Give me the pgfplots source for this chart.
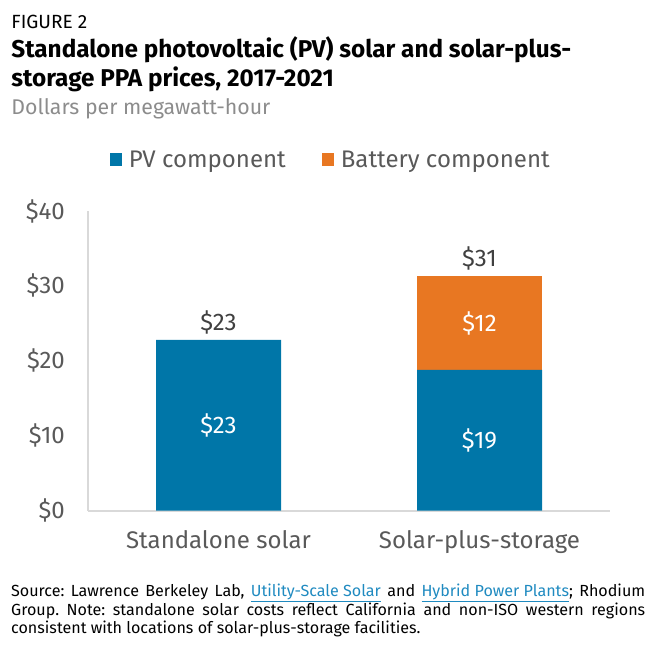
\documentclass[border=0pt]{standalone}
\usepackage{fontspec}
\setmainfont{Fira Sans}
\usepackage{pgfplots}
\pgfplotsset{compat=1.18}
\definecolor{pvblue}{HTML}{0076A8}
\definecolor{batorange}{HTML}{E87722}
\definecolor{txtgray}{HTML}{595959}
\definecolor{darkgray2}{HTML}{404040}
\definecolor{subgray}{HTML}{8C8C8C}
\definecolor{axgray}{HTML}{D9D9D9}
\definecolor{linkblue}{HTML}{1F8AC0}
\newcommand{\lnk}[1]{{\color{linkblue}\underline{#1}}}
\frenchspacing
\begin{document}
\begin{tikzpicture}[x=1pt,y=1pt]
\useasboundingbox (0,0) rectangle (658,653);
\node[anchor=base west,inner sep=0,font=\fontsize{19.1}{22}\selectfont] at (11.2,653-28.3) {FIGURE 2};
\node[anchor=base west,inner sep=0,font=\fontsize{24.3}{28}\selectfont\bfseries] at (11.2,653-57.3) {Standalone photovoltaic (PV) solar and solar-plus-};
\node[anchor=base west,inner sep=0,font=\fontsize{24.3}{28}\selectfont\bfseries] at (11.2,653-86.7) {storage PPA prices, 2017-2021};
\node[anchor=base west,inner sep=0,font=\fontsize{21.3}{24}\selectfont,text=subgray] at (11.2,653-115) {Dollars per megawatt-hour};
\begin{axis}[
  at={(88pt,142.3pt)}, anchor=south west,
  scale only axis, width=522pt, height=299.7pt,
  ymin=0, ymax=40, xmin=-0.5, xmax=1.5,
  ybar stacked, bar width=125pt,
  axis x line=bottom, axis y line=left,
  axis line style={draw=axgray, line width=1.8pt, -},
  major tick length=0pt,
  ytick={0,10,20,30,40},
  yticklabels={\$0,\$10,\$20,\$30,\$40},
  xtick={0,1},
  xticklabels={Standalone solar,Solar-plus-storage},
  tick label style={text=txtgray, font=\fontsize{24}{28}\selectfont},
  yticklabel style={anchor=east, inner sep=0pt, xshift=-23pt},
  xticklabel style={anchor=base, inner sep=0pt, yshift=-37.3pt},
  legend columns=2,
  legend style={at={(0.0421,1.1712)}, anchor=west, draw=none, fill=none,
    inner sep=0pt, outer sep=0pt,
    nodes={inner sep=0pt, outer sep=0pt},
    font=\fontsize{24}{28}\selectfont, text=txtgray,
    /tikz/every odd column/.append style={column sep=7pt},
    /tikz/every even column/.append style={column sep=36pt}},
  legend image code/.code={\fill[#1] (0pt,-6.3pt) rectangle (12pt,6.3pt);},
  clip=false,
]
\addplot[fill=pvblue, draw=none] coordinates {(0,22.8) (1,18.8)};
\addlegendentry{PV component}
\addplot[fill=batorange, draw=none] coordinates {(0,0) (1,12.5)};
\addlegendentry{Battery component}
\coordinate (in1) at (axis cs:0,11.4);
\coordinate (in2) at (axis cs:1,9.4);
\coordinate (in3) at (axis cs:1,25.05);
\coordinate (tot1) at (axis cs:0,25.15);
\coordinate (tot2) at (axis cs:1,33.7);
\end{axis}
\node[text=white, font=\fontsize{24}{28}\selectfont] at (in1) {\$23};
\node[text=white, font=\fontsize{24}{28}\selectfont] at (in2) {\$19};
\node[text=white, font=\fontsize{24}{28}\selectfont] at (in3) {\$12};
\node[text=darkgray2, font=\fontsize{24}{28}\selectfont] at (tot1) {\$23};
\node[text=darkgray2, font=\fontsize{24}{28}\selectfont] at (tot2) {\$31};
\node[anchor=base west,inner sep=0,font=\fontsize{16.1}{18}\selectfont] at (11,653-596.7) {\makebox[634pt][s]{Source: Lawrence Berkeley Lab, \lnk{Utility-Scale Solar} and \lnk{Hybrid Power Plants}; Rhodium}};
\node[anchor=base west,inner sep=0,font=\fontsize{16.1}{18}\selectfont] at (11,653-615) {\makebox[634pt][s]{Group. Note: standalone solar costs reflect California and non-ISO western regions}};
\node[anchor=base west,inner sep=0,font=\fontsize{16.1}{18}\selectfont] at (11,653-633.3) {consistent with locations of solar-plus-storage facilities.};
\end{tikzpicture}
\end{document}
